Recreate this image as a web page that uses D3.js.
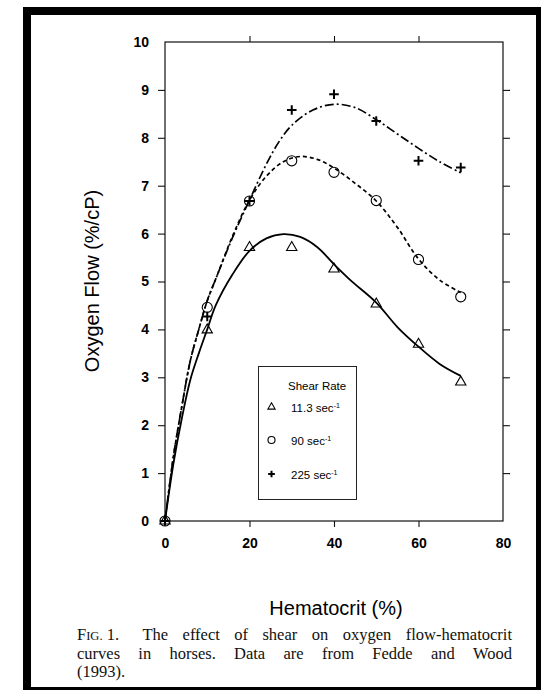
<!DOCTYPE html>
<html>
<head>
<meta charset="utf-8">
<script src="https://cdn.jsdelivr.net/npm/d3@7"></script>
<style>
  body { margin: 0; background: #fff; }
  svg { display: block; }
</style>
</head>
<body>
<div id="chart"></div>
<script>
// Data
//=================================
var hematocrit = [0, 10, 20, 30, 40, 50, 60, 70];
var flowLow = [0, 3.99, 5.71, 5.71, 5.26, 4.53, 3.69, 2.90];   // 11.3 sec-1
var flowMid = [0, 4.46, 6.68, 7.52, 7.28, 6.69, 5.46, 4.68];   // 90 sec-1
var flowHigh = [0, 4.27, 6.68, 8.58, 8.91, 8.35, 7.52, 7.38];  // 225 sec-1

// fitted curves
var fitLowX = [0, 2, 4, 6, 8, 10, 12, 16, 20, 24, 28, 32, 36, 40, 44, 50, 55, 60, 65, 70];
var fitLowY = [0, 1.2, 2.15, 2.95, 3.5, 4.0, 4.5, 5.15, 5.64, 5.9, 5.99, 5.93, 5.72, 5.36, 5.02, 4.56, 4.05, 3.64, 3.28, 3.03];
var fitMidX = [0, 2, 4, 6, 8, 10, 12, 16, 20, 24, 28, 32, 36, 40, 45, 50, 55, 60, 65, 70];
var fitMidY = [0, 1.35, 2.4, 3.35, 4.0, 4.6, 5.05, 5.95, 6.7, 7.2, 7.5, 7.61, 7.55, 7.37, 7.05, 6.68, 6.13, 5.47, 5.03, 4.77];
var fitHighX = [0, 2, 4, 6, 8, 10, 12, 16, 20, 24, 27, 30, 35, 40, 45, 50, 55, 60, 65, 70];
var fitHighY = [0, 1.35, 2.4, 3.35, 4.0, 4.6, 5.05, 5.92, 6.7, 7.45, 7.92, 8.26, 8.58, 8.7, 8.63, 8.38, 8.08, 7.78, 7.5, 7.27];

var legendLabels = ["11.3 sec", "90 sec", "225 sec"];
var xTicks = [0, 20, 40, 60, 80];
var yTicks = [0, 1, 2, 3, 4, 5, 6, 7, 8, 9, 10];

var captionLine1 = ["The", "effect", "of", "shear", "on", "oxygen", "flow-hematocrit"];
var captionLine2 = ["curves", "in", "horses.", "Data", "are", "from", "Fedde", "and", "Wood"];
var captionLine3 = "(1993).";

// Set up the chart
//=================================
var svgWidth = 541;
var svgHeight = 690;
var plot = { left: 165, top: 42, right: 503, bottom: 521 };

var svg = d3.select("#chart")
  .append("svg")
  .attr("width", svgWidth)
  .attr("height", svgHeight);

// thick outer border
svg.append("rect")
  .attr("x", 27).attr("y", 11)
  .attr("width", 513).attr("height", 680)
  .attr("fill", "none")
  .attr("stroke", "#000")
  .attr("stroke-width", 8);

var xScale = d3.scaleLinear().domain([0, 80]).range([plot.left, plot.right]);
var yScale = d3.scaleLinear().domain([0, 10]).range([plot.bottom, plot.top]);

var sansFont = "'Liberation Sans', Arial, Helvetica, sans-serif";
var serifFont = "'Liberation Serif', 'Times New Roman', serif";

// axes: labels left and bottom, outward ticks on all four sides
function styleAxis(g, keep) {
  g.select(".domain").remove();
  g.selectAll(".tick line")
    .attr("stroke", "#111")
    .attr("stroke-width", 1.1)
    .attr("display", d => keep(d) ? null : "none");
  g.selectAll(".tick text")
    .attr("fill", "#000")
    .attr("font-family", sansFont)
    .attr("font-weight", "bold")
    .attr("font-size", "14px");
}
var inner = d => d > 0 && d < 10;
var innerX = d => d > 0 && d < 80;

svg.append("g")
  .attr("transform", `translate(${plot.left},0)`)
  .call(d3.axisLeft(yScale).tickValues(yTicks).tickSize(7).tickPadding(9))
  .call(g => styleAxis(g, inner));

svg.append("g")
  .attr("transform", `translate(${plot.right},0)`)
  .call(d3.axisRight(yScale).tickValues(yTicks).tickSize(7).tickFormat(""))
  .call(g => styleAxis(g, inner));

svg.append("g")
  .attr("transform", `translate(0,${plot.bottom})`)
  .call(d3.axisBottom(xScale).tickValues(xTicks).tickSize(6).tickPadding(11))
  .call(g => styleAxis(g, innerX));

svg.append("g")
  .attr("transform", `translate(0,${plot.top})`)
  .call(d3.axisTop(xScale).tickValues(xTicks).tickSize(6).tickFormat(""))
  .call(g => styleAxis(g, innerX));

// plot frame
svg.append("rect")
  .attr("x", plot.left).attr("y", plot.top)
  .attr("width", plot.right - plot.left)
  .attr("height", plot.bottom - plot.top)
  .attr("fill", "none")
  .attr("stroke", "#111")
  .attr("stroke-width", 1.2);

// fitted curves
var line = d3.line()
  .x(d => xScale(d[0]))
  .y(d => yScale(d[1]))
  .curve(d3.curveCatmullRom.alpha(0.5));

var curves = [
  { x: fitLowX, y: fitLowY, dash: null, w: 1.8 },
  { x: fitMidX, y: fitMidY, dash: "4,3", w: 1.7 },
  { x: fitHighX, y: fitHighY, dash: "9,3,2,3", w: 1.7 }
];
curves.forEach(function(c) {
  svg.append("path")
    .datum(c.x.map((v, i) => [v, c.y[i]]))
    .attr("d", line)
    .attr("fill", "none")
    .attr("stroke", "#000")
    .attr("stroke-width", c.w)
    .attr("stroke-dasharray", c.dash);
});

// markers
function plusPath(r) {
  return `M${-r},0H${r}M0,${-r}V${r}`;
}
var triSymbol = d3.symbol().type(d3.symbolTriangle);
var circSymbol = d3.symbol().type(d3.symbolCircle);

function drawMarker(g, kind, scale) {
  if (kind === 0) {
    g.append("path").attr("d", triSymbol.size(46 * scale * scale)())
      .attr("fill", "none").attr("stroke", "#000").attr("stroke-width", 1.1);
  } else if (kind === 1) {
    g.append("path").attr("d", circSymbol.size(80 * scale * scale)())
      .attr("fill", "none").attr("stroke", "#000").attr("stroke-width", 1.1);
  } else {
    g.append("path").attr("d", plusPath(4.8 * scale))
      .attr("fill", "none").attr("stroke", "#000").attr("stroke-width", 2);
  }
}

[flowLow, flowMid, flowHigh].forEach(function(series, k) {
  svg.append("g").selectAll("g")
    .data(series)
    .enter()
    .append("g")
    .attr("transform", (d, i) => `translate(${xScale(hematocrit[i])},${yScale(d)})`)
    .each(function() { drawMarker(d3.select(this), k, 1); });
});

// legend
var legend = svg.append("g");
legend.append("rect")
  .attr("x", 258.5).attr("y", 366.5)
  .attr("width", 98).attr("height", 133)
  .attr("fill", "#fff")
  .attr("stroke", "#222")
  .attr("stroke-width", 1);
legend.append("text")
  .attr("x", 288).attr("y", 390)
  .attr("font-family", sansFont)
  .attr("font-size", "11.5px")
  .text("Shear Rate");

var legendRows = [412, 445, 479];
legendLabels.forEach(function(label, k) {
  var row = legend.append("g");
  drawMarker(row.append("g").attr("transform", `translate(271.5,${legendRows[k] - 5})`), k, 0.7);
  var t = row.append("text")
    .attr("x", 291).attr("y", legendRows[k])
    .attr("font-family", sansFont)
    .attr("font-size", "11.5px")
    .text(label);
  t.append("tspan")
    .attr("font-size", "7px")
    .attr("dy", -4.5)
    .text("-1");
});

// axis titles
svg.append("text")
  .attr("transform", "translate(99,281) rotate(-90)")
  .attr("text-anchor", "middle")
  .attr("font-family", sansFont)
  .attr("font-size", "20px")
  .text("Oxygen Flow (%/cP)");

svg.append("text")
  .attr("x", 336).attr("y", 615)
  .attr("text-anchor", "middle")
  .attr("font-family", sansFont)
  .attr("font-size", "20px")
  .text("Hematocrit (%)");

// caption, justified by hand
//=================================
var capX0 = 77, capX1 = 512, capSize = "16.5px", capLead = 18.5;
var caption = svg.append("g")
  .attr("font-family", serifFont)
  .attr("font-size", capSize)
  .attr("fill", "#111");

function justify(nodes, x0, x1, firstExtra) {
  var widths = nodes.map(n => n.node().getComputedTextLength());
  var total = d3.sum(widths);
  var gap = (x1 - x0 - total - firstExtra) / (nodes.length - 1);
  var x = x0;
  nodes.forEach(function(n, i) {
    n.attr("x", x);
    x += widths[i] + gap + (i === 0 ? firstExtra : 0);
  });
}

var y1 = 640;
var figLabel = caption.append("text").attr("y", y1)
  .text("F")
  .append("tspan").attr("font-size", "12.5px").text("IG.")
  .select(function() { return this.parentNode; });
figLabel.append("tspan").text(" 1.");
var line1 = [figLabel].concat(captionLine1.map(w => caption.append("text").attr("y", y1).text(w)));
justify(line1, capX0, capX1, 9);

var line2 = captionLine2.map(w => caption.append("text").attr("y", y1 + capLead).text(w));
justify(line2, capX0, capX1, 0);

caption.append("text")
  .attr("x", capX0).attr("y", y1 + 2 * capLead)
  .text(captionLine3);
</script>
</body>
</html>
